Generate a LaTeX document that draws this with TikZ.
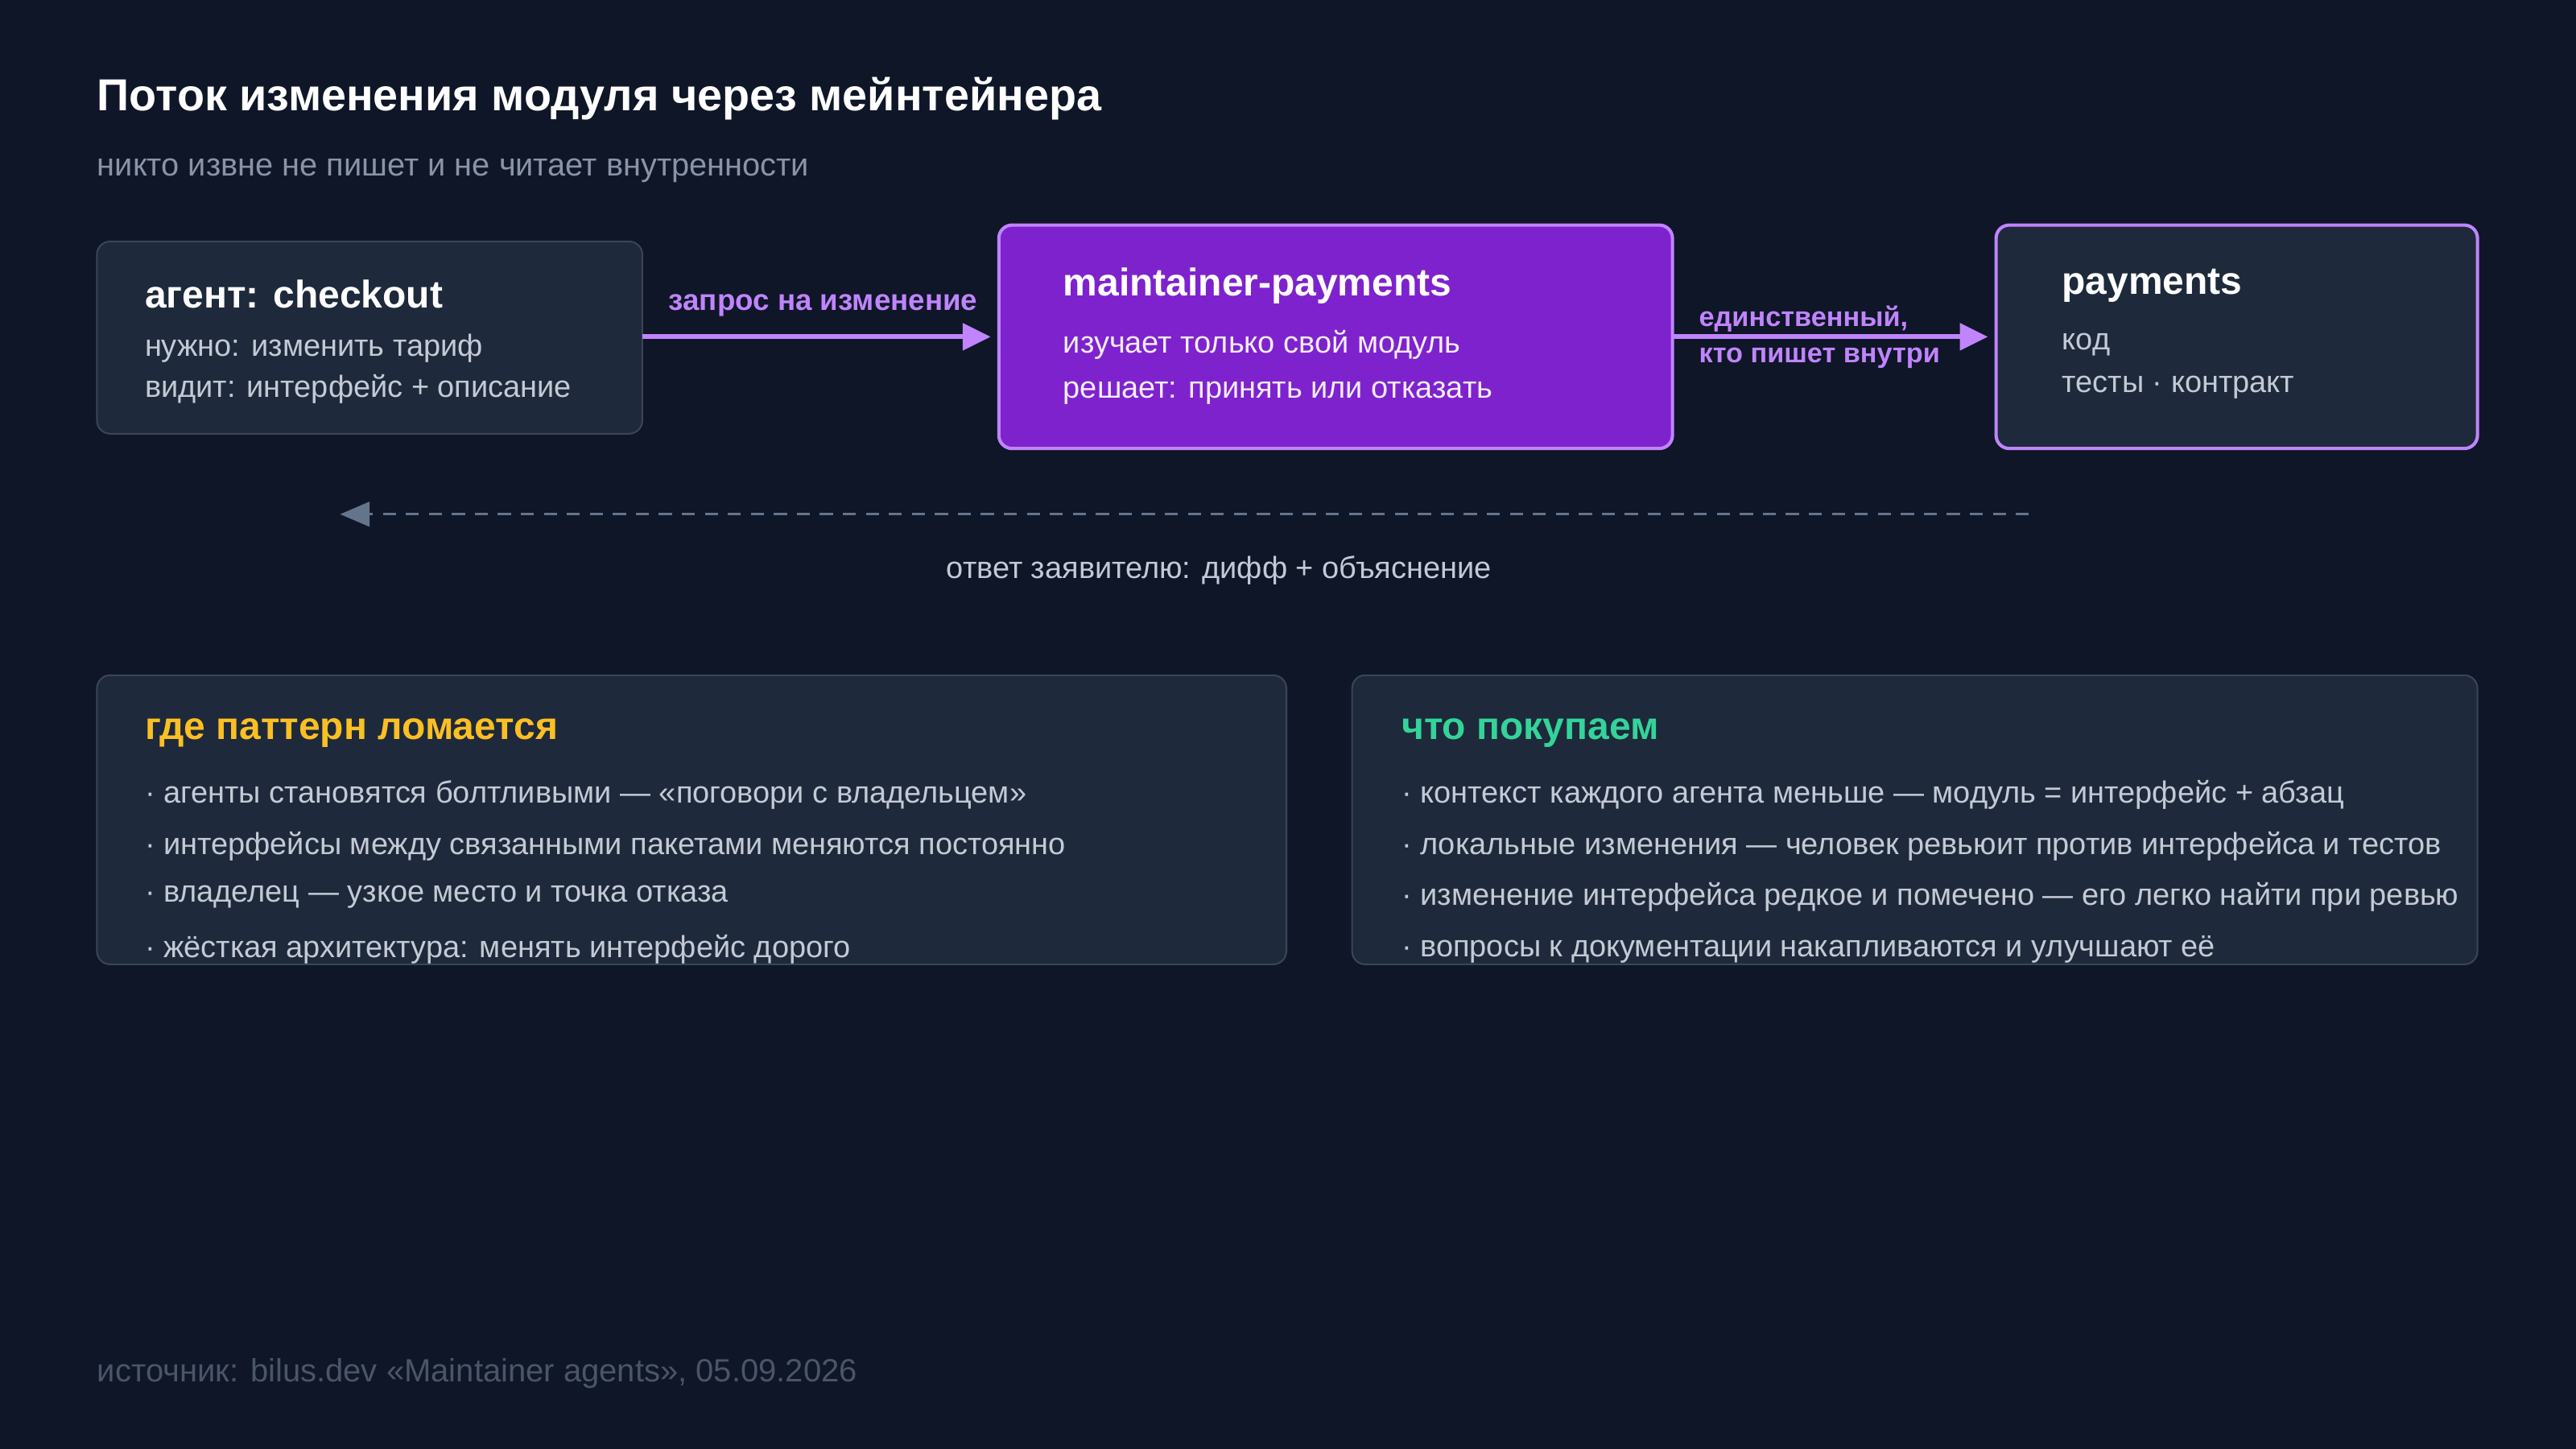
\documentclass[tikz,border=0pt]{standalone}
\usepackage{fontspec}
\setmainfont{Liberation Sans}
\usetikzlibrary{arrows.meta}
\definecolor{bg}{HTML}{0E1628}
\definecolor{card}{HTML}{1E293B}
\definecolor{cardline}{HTML}{3A4558}
\definecolor{purp}{HTML}{7E22CE}
\definecolor{lilac}{HTML}{C084FC}
\definecolor{sub}{HTML}{8A94A6}
\definecolor{body}{HTML}{C3CAD5}
\definecolor{dashcol}{HTML}{64748B}
\definecolor{warn}{HTML}{FBBF24}
\definecolor{ok}{HTML}{34D399}
\definecolor{foot}{HTML}{4A5568}
\begin{document}
\begin{tikzpicture}[x=1pt,y=-1pt,
  card/.style={draw=cardline,fill=card,rounded corners=8pt,line width=1pt},
  hi/.style={draw=lilac,rounded corners=8pt,line width=2pt},
  t/.style={anchor=west,inner sep=0pt,text=white,font=\fontsize{23.5}{26}\selectfont\bfseries},
  b/.style={anchor=west,inner sep=0pt,text=body,font=\fontsize{18.6}{21}\selectfont},
  arr/.style={draw=lilac,line width=3pt,-{Triangle[length=17pt,width=16pt]}},
  lab/.style={inner sep=0pt,text=lilac,font=\fontsize{18}{21}\selectfont\bfseries}]
\fill[bg] (0,0) rectangle (1568,882);
\useasboundingbox (0,0) rectangle (1568,882);
\node[anchor=west,inner sep=0pt,text=white,font=\fontsize{27.3}{31}\selectfont\bfseries] (title) at (59,60) {Поток изменения модуля через мейнтейнера};
\node[anchor=west,inner sep=0pt,text=sub,font=\fontsize{19.5}{23}\selectfont] (subt) at (59,104) {никто извне не пишет и не читает внутренности};
% box 1
\draw[card] (59,147) rectangle (391,264);
\coordinate (aE) at (391,205);
\node[t] (at) at (88,179) {агент: checkout};
\node[b] (a1) at (88,212) {нужно: изменить тариф};
\node[b] (a2) at (88,237) {видит: интерфейс + описание};
% box 2
\draw[hi,fill=purp] (608,137) rectangle (1018,273);
\coordinate (mW) at (603,205);
\coordinate (mE) at (1018,205);
\node[t] (mt) at (647,174) {maintainer-payments};
\node[b,text=white!92!purp] (m1) at (647,210) {изучает только свой модуль};
\node[b,text=white!92!purp] (m2) at (647,239) {решает: принять или отказать};
% box 3
\draw[hi,fill=card] (1215,137) rectangle (1508,273);
\coordinate (pW) at (1210,205);
\node[t] (pt) at (1255,174) {payments};
\node[b] (p1) at (1255,210) {код};
\node[b] (p2) at (1255,236) {тесты · контракт};
% arrows
\draw[arr] (aE) -- (mW);
\node[lab] (l1) at (501,186) {запрос на изменение};
\draw[arr] (mE) -- (pW);
\node[lab,anchor=west,font=\fontsize{16.8}{20}\selectfont\bfseries] (l2) at (1034,194) {единственный,};
\node[lab,anchor=west,font=\fontsize{16.8}{20}\selectfont\bfseries] (l3) at (1034,218) {кто пишет внутри};
\coordinate (dS) at (1235,313);
\coordinate (dE) at (207,313);
\draw[draw=dashcol,line width=1.5pt,dash pattern=on 8pt off 6pt,-{Triangle[length=18pt,width=15pt]}] (dS) -- (dE);
\node[inner sep=0pt,text=body,font=\fontsize{18.6}{21}\selectfont] (rl) at (742,347) {ответ заявителю: дифф + объяснение};
% lower cards
\draw[card] (59,411) rectangle (783,587);
\node[t,text=warn] (w) at (88,446) {где паттерн ломается};
\node[b] (w1) at (88,484) {· агенты становятся болтливыми — «поговори с владельцем»};
\node[b] (w2) at (88,515) {· интерфейсы между связанными пакетами меняются постоянно};
\node[b] (w3) at (88,546) {· владелец — узкое место и точка отказа};
\node[b] (w4) at (88,578) {· жёсткая архитектура: менять интерфейс дорого};
\draw[card] (823,411) rectangle (1508,587);
\node[t,text=ok] (g) at (853,446) {что покупаем};
\node[b] (g1) at (853,484) {· контекст каждого агента меньше — модуль = интерфейс + абзац};
\node[b] (g2) at (853,515) {· локальные изменения — человек ревьюит против интерфейса и тестов};
\node[b] (g3) at (853,546) {· изменение интерфейса редкое и помечено — его легко найти при ревью};
\node[b] (g4) at (853,578) {· вопросы к документации накапливаются и улучшают её};
\node[anchor=west,inner sep=0pt,text=foot,font=\fontsize{19.6}{23}\selectfont] (f) at (59,836) {источник: bilus.dev «Maintainer agents», 05.09.2026};
\end{tikzpicture}
\end{document}
